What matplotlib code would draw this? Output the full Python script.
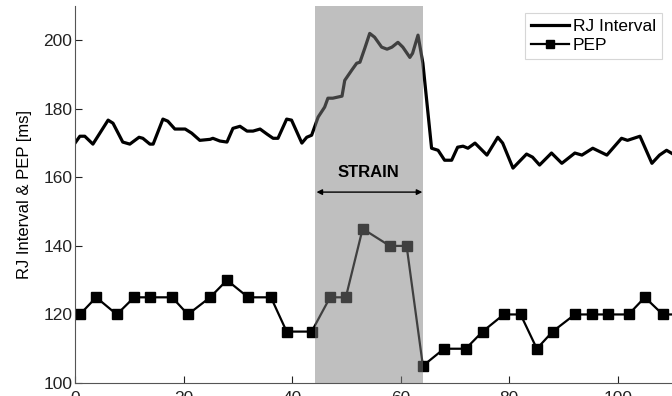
import matplotlib.pyplot as plt

plt.rcParams["font.family"] = ["Liberation Sans", "DejaVu Sans"]

# RJ interval trace (time in s, interval in ms)
rj_t = [0.0, 0.9, 1.8, 3.3, 6.1, 7.0, 8.8, 10.1, 11.8, 12.5, 13.8, 14.4, 16.2,
        17.1, 18.4, 20.3, 21.5, 23.0, 24.9, 25.4, 26.7, 28.0, 29.1, 30.4, 31.7,
        32.8, 34.1, 35.4, 36.5, 37.4, 39.0, 39.9, 41.8, 42.7, 43.6, 44.8, 46.0,
        46.6, 47.5, 49.2, 49.7, 51.0, 51.9, 52.5, 53.4, 54.3, 55.2, 56.5, 57.5,
        58.4, 59.5, 60.4, 61.7, 62.2, 63.2, 64.1, 65.7, 66.9, 68.1, 69.4, 70.5,
        71.5, 72.4, 73.7, 75.9, 77.9, 78.8, 80.7, 83.2, 84.3, 85.6, 87.8, 89.7,
        92.1, 93.4, 95.4, 98.0, 100.7, 101.8, 104.1, 106.3, 107.7, 109.0, 110.5]
rj_ms = [170.0, 172.0, 172.0, 169.7, 176.7, 175.8, 170.3, 169.7, 171.7, 171.4,
         169.7, 169.7, 177.0, 176.4, 174.1, 174.1, 172.9, 170.8, 171.1, 171.4,
         170.6, 170.3, 174.3, 174.9, 173.5, 173.5, 174.1, 172.6, 171.4, 171.4,
         177.0, 176.7, 170.0, 171.7, 172.3, 177.6, 180.5, 183.1, 183.1, 183.7,
         188.3, 191.3, 193.3, 193.6, 197.7, 202.0, 200.9, 198.0, 197.4, 198.0,
         199.4, 198.0, 195.0, 196.2, 201.5, 193.3, 168.5, 167.9, 165.0, 165.0,
         168.8, 169.1, 168.5, 170.0, 166.5, 171.7, 170.0, 162.7, 166.8, 165.9,
         163.6, 167.1, 164.1, 167.1, 166.5, 168.5, 166.5, 171.4, 170.8, 172.0,
         164.1, 166.5, 167.9, 166.5]

# pre-ejection period, one value per beat group
pep_t = [0.9, 3.9, 7.7, 10.9, 13.8, 17.9, 20.8, 24.9, 28.0, 31.9, 36.1, 39.0,
         43.6, 47.0, 49.9, 53.0, 58.0, 61.1, 64.1, 68.0, 72.0, 75.1, 79.0, 82.1,
         85.1, 88.0, 92.1, 95.2, 98.2, 102.0, 105.0, 108.3, 111.5]
pep_ms = [120, 125, 120, 125, 125, 125, 120, 125, 130, 125, 125, 115, 115, 125,
          125, 145, 140, 140, 105, 110, 110, 115, 120, 120, 110, 115, 120, 120,
          120, 120, 125, 120, 120]

strain_start, strain_end = 44.2, 64.1

fig = plt.figure(figsize=(6.72, 3.96), dpi=100)
ax = fig.add_axes([75 / 672, 13 / 396, 597 / 672, 377 / 396])

ax.plot(rj_t, rj_ms, color="black", lw=2.3, label="RJ Interval", zorder=2)
ax.plot(pep_t, pep_ms, color="black", lw=1.6, marker="s", markersize=6.8,
        label="PEP", zorder=2)

# strain period drawn over the traces so they show through in grey
ax.axvspan(strain_start, strain_end, facecolor="#808080", alpha=0.5,
           edgecolor="none", zorder=3)
ax.annotate("", xy=(strain_start + 0.3, 155.7), xytext=(strain_end - 0.1, 155.7),
            arrowprops=dict(arrowstyle="<|-|>", color="black", lw=1.0,
                            mutation_scale=8, shrinkA=0, shrinkB=0),
            zorder=4)
ax.text((strain_start + strain_end) / 2, 161.3, "STRAIN", ha="center",
        va="center", fontsize=12, fontweight="bold", zorder=4)

ax.set_xlim(0, 110)
ax.set_ylim(100, 210)
ax.set_xticks(range(0, 101, 20))
ax.set_yticks(range(100, 201, 20))
ax.tick_params(direction="in", length=5, width=0.8, labelsize=12.5, pad=2,
               colors="#222222")
ax.tick_params(axis="x", pad=6)
for side in ("top", "right"):
    ax.spines[side].set_visible(False)
for side in ("left", "bottom"):
    ax.spines[side].set_color("#555555")

ax.set_ylabel("RJ Interval & PEP [ms]", fontsize=12, labelpad=8)

leg = ax.legend(loc="upper right", bbox_to_anchor=(0.983, 0.981),
                borderaxespad=0, fontsize=12.5, fancybox=False,
                handlelength=2.2, handletextpad=0.2, borderpad=0.35,
                labelspacing=0.2, markerscale=0.8)
leg.get_frame().set_edgecolor("#cccccc")
leg.get_frame().set_linewidth(0.8)
leg.set_zorder(5)

fig.savefig("out.png", dpi=100)
